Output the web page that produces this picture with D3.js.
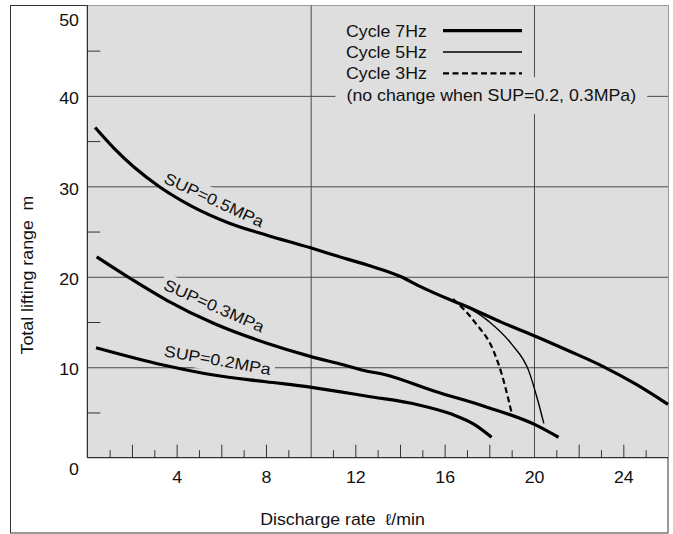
<!DOCTYPE html>
<html>
<head>
<meta charset="utf-8">
<script src="https://cdn.jsdelivr.net/npm/d3@7"></script>
<style>
body { margin: 0; background: #fff; }
svg text { font-family: "Liberation Sans", Arial, Helvetica, sans-serif; font-size: 16px; fill: #111; white-space: pre; }
</style>
</head>
<body>
<svg id="chart" width="673" height="534"></svg>
<script>
// tick values
var yLabelTicks = [0, 10, 20, 30, 40, 50];
var yGridTicks = [10, 20, 30, 40];
var yMinorTicks = [5, 15, 25, 35, 45];
var xLabelTicks = [4, 8, 12, 16, 20, 24];
var xGridTicks = [10, 20];
var xLongTicks = [2, 4, 6, 8, 12, 14, 16, 18, 22, 24];
var xShortTicks = [1, 3, 5, 7, 9, 11, 13, 15, 17, 19, 21, 23, 25];

// curves: discharge rate (l/min) -> total lifting range (m)
var sup05Rate = [0.35, 1.2, 2.1, 3.26, 4.6, 6.39, 8.04, 10.0, 11.03, 12.54, 14.05, 14.8, 16.3, 16.9, 18.56, 20.14, 21.57, 23.08, 24.58, 26.0];
var sup05Head = [36.5, 34.2, 32.1, 29.9, 27.9, 25.9, 24.6, 23.2, 22.4, 21.3, 20.0, 19.05, 17.4, 16.8, 14.96, 13.35, 11.8, 10.1, 8.1, 5.9];
var sup03Rate = [0.42, 2.0, 3.56, 5.65, 8.04, 9.98, 11.5, 12.39, 13.3, 15.55, 17.8, 20.07, 21.1];
var sup03Head = [22.2, 19.7, 17.4, 14.86, 12.65, 11.2, 10.25, 9.64, 9.2, 7.34, 5.67, 3.63, 2.26];
var sup02Rate = [0.39, 3.4, 5.65, 8.0, 9.98, 12.54, 14.8, 16.3, 17.36, 18.1];
var sup02Head = [12.16, 10.25, 9.14, 8.4, 7.8, 6.79, 5.86, 4.82, 3.63, 2.26];
var hz5Rate = [16.76, 17.96, 19.0, 19.77, 20.14, 20.44];
var hz5Head = [17.0, 15.1, 12.55, 9.57, 6.6, 3.8];
var hz3Rate = [16.38, 17.36, 18.19, 18.56, 18.84, 19.01];
var hz3Head = [17.55, 14.96, 11.8, 9.2, 6.6, 4.82];

var legendLabels = ["Cycle 7Hz", "Cycle 5Hz", "Cycle 3Hz"];
var legendNote = "(no change when SUP=0.2, 0.3MPa)";
var curveLabels = ["SUP=0.5MPa", "SUP=0.3MPa", "SUP=0.2MPa"];

var bg = "#dedede";
var gridColor = "#4a4a4a";
var stretch = " scale(1.11,1)";

var svg = d3.select("#chart");

// plot box
var plotLeft = 87.3, plotTop = 5.4, plotRight = 668, plotBottom = 457.7;
var plotW = plotRight - plotLeft, plotH = plotBottom - plotTop;

var x = d3.scaleLinear().domain([0, 26]).range([plotLeft, plotRight]);
var y = d3.scaleLinear().domain([0, 50]).range([plotBottom, plotTop]);

// outer frame
svg.append("rect")
    .attr("x", 10.5).attr("y", 5.5)
    .attr("width", plotRight - 10.5).attr("height", 527.5)
    .attr("fill", "#fff").attr("stroke", "#333");
svg.append("line")
    .attr("x1", 10.5).attr("x2", plotRight).attr("y1", 533).attr("y2", 533)
    .attr("stroke", "#999");

svg.append("rect")
    .attr("x", plotLeft).attr("y", plotTop)
    .attr("width", plotW).attr("height", plotH)
    .attr("fill", bg);

// grid lines
var gy = svg.append("g").attr("transform", "translate(" + plotLeft + ",0)")
    .call(d3.axisLeft(y).tickValues(yGridTicks).tickSize(-plotW).tickFormat(""));
var gx = svg.append("g").attr("transform", "translate(0," + plotBottom + ")")
    .call(d3.axisBottom(x).tickValues(xGridTicks).tickSize(-plotH).tickFormat(""));
[gy, gx].forEach(function(g) {
    g.select(".domain").remove();
    g.selectAll("line").attr("stroke", gridColor);
});

// small ticks
function ticks(axis, tr, vals, size) {
    var g = svg.append("g").attr("transform", tr)
        .call(axis.tickValues(vals).tickSize(size).tickFormat(""));
    g.select(".domain").remove();
    g.selectAll("line").attr("stroke", "#333");
}
ticks(d3.axisLeft(y), "translate(" + plotLeft + ",0)", yMinorTicks, -13);
ticks(d3.axisBottom(x), "translate(0," + plotBottom + ")", xLongTicks, -13);
ticks(d3.axisBottom(x), "translate(0," + plotBottom + ")", xShortTicks, -7.5);

// axis lines
svg.append("line").attr("x1", plotLeft).attr("x2", plotLeft).attr("y1", plotTop).attr("y2", plotBottom).attr("stroke", "#000");
svg.append("line").attr("x1", plotLeft).attr("x2", plotRight).attr("y1", plotBottom).attr("y2", plotBottom).attr("stroke", "#000");

// tick labels
var yAxis = svg.append("g").attr("transform", "translate(" + plotLeft + ",0)")
    .call(d3.axisLeft(y).tickValues(yLabelTicks).tickSize(0));
yAxis.select(".domain").remove();
yAxis.selectAll("text")
    .attr("x", -7.5)
    .attr("dy", function(d) { return d == 50 ? "1.25em" : d == 0 ? "1.07em" : "0.48em"; })
    .attr("transform", stretch);

var xAxis = svg.append("g").attr("transform", "translate(0," + plotBottom + ")")
    .call(d3.axisBottom(x).tickValues(xLabelTicks).tickSize(0).tickPadding(14.4));
xAxis.select(".domain").remove();
xAxis.selectAll("text").attr("transform", stretch);

// axis titles
svg.append("text")
    .attr("text-anchor", "middle")
    .attr("transform", "translate(342.5,525)" + stretch)
    .text("Discharge rate  \u2113/min");
svg.append("text")
    .attr("text-anchor", "middle")
    .attr("transform", "translate(33,275) rotate(-90)" + stretch)
    .text("Total lifting range  m");

var haloLayer = svg.append("g");
var curveLayer = svg.append("g");
var textLayer = svg.append("g");

// text with a background box that hides the grid behind it
function addLabel(txt, tf, anchor, dy, padX, padY) {
    var t = textLayer.append("text")
        .attr("transform", tf)
        .attr("text-anchor", anchor)
        .attr("dy", dy)
        .text(txt);
    var b = t.node().getBBox();
    haloLayer.append("rect")
        .attr("transform", tf)
        .attr("x", b.x - padX).attr("y", b.y - padY)
        .attr("width", b.width + 2 * padX).attr("height", b.height + 2 * padY)
        .attr("fill", bg);
}

// curve labels
addLabel(curveLabels[0], "translate(" + x(5.68) + "," + y(28.5) + ") rotate(25)" + stretch, "middle", "0.35em", 3, 2);
addLabel(curveLabels[1], "translate(" + x(5.68) + "," + y(16.8) + ") rotate(24)" + stretch, "middle", "0.35em", 3, 2);
addLabel(curveLabels[2], "translate(" + x(5.83) + "," + y(10.8) + ") rotate(10)" + stretch, "middle", "0.35em", 3, 2);

// legend
var legendY = [36.7, 58, 79.3];
var legendStyle = [
    {w: 3.2, dash: null},
    {w: 1.4, dash: null},
    {w: 2.2, dash: "6,3.5"}
];
legendLabels.forEach(function(lab, i) {
    textLayer.append("text")
        .attr("transform", "translate(346," + legendY[i] + ")" + stretch)
        .text(lab);
    textLayer.append("line")
        .attr("x1", 443).attr("x2", 522)
        .attr("y1", legendY[i] - 6).attr("y2", legendY[i] - 6)
        .attr("stroke", "#000")
        .attr("stroke-width", legendStyle[i].w)
        .attr("stroke-dasharray", legendStyle[i].dash);
});
addLabel(legendNote, "translate(346.5,100.8)" + stretch, "start", 0, 10, 9.5);

// curves
var line = d3.line()
    .x(function(d) { return x(d[0]); })
    .y(function(d) { return y(d[1]); })
    .curve(d3.curveMonotoneX);

var curves = [
    {rate: sup05Rate, head: sup05Head, w: 3.2, dash: null},
    {rate: sup03Rate, head: sup03Head, w: 3.2, dash: null},
    {rate: sup02Rate, head: sup02Head, w: 3.2, dash: null},
    {rate: hz5Rate, head: hz5Head, w: 1.4, dash: null},
    {rate: hz3Rate, head: hz3Head, w: 2.2, dash: "6,3.5"}
];
curves.forEach(function(c) {
    curveLayer.append("path")
        .datum(d3.zip(c.rate, c.head))
        .attr("d", line)
        .attr("fill", "none")
        .attr("stroke", "#000")
        .attr("stroke-width", c.w)
        .attr("stroke-dasharray", c.dash);
});
</script>
</body>
</html>
